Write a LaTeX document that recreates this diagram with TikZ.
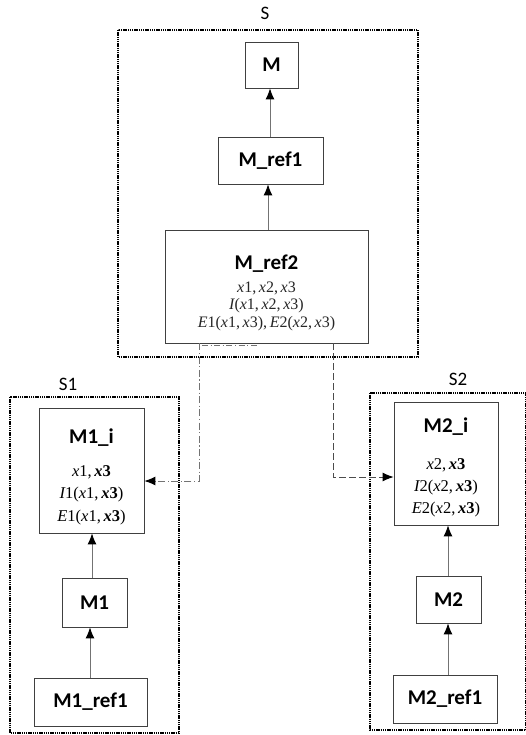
\documentclass[tikz,border=0pt]{standalone}
\usepackage{fontspec}
\setsansfont{Carlito}
\newfontfamily\mfont{Liberation Serif}
\usetikzlibrary{arrows.meta,calc}
\newcommand\ttl[2]{{\rule{0pt}{#1}\sffamily\bfseries\fontsize{21}{24}\selectfont #2}}
\newcommand\vx{{\itshape x}}
\newcommand\bxt{{\bfseries\itshape x}\textbf{3}}
\newcommand\cm{,\,}
\begin{document}
\begin{tikzpicture}[x=1pt,y=-1pt,
  grp/.style={draw=black,line width=1.2pt,dash pattern=on 1.4pt off 0.8pt},
  box/.style={draw=black!75,line width=0.8pt,fill=white,inner sep=2pt,
    font=\sffamily\bfseries\fontsize{21}{24}\selectfont},
  mbox/.style={draw=black!75,line width=0.8pt,fill=white,inner sep=2pt,align=center},
  lbl/.style={font=\sffamily\fontsize{19}{22}\selectfont},
  arr/.style={draw=black!55,line width=0.9pt,-{Latex[length=11pt,width=9pt,color=black]}},
  dd/.style={draw=black!55,line width=0.9pt,dash pattern=on 7pt off 2.5pt on 1.2pt off 2.5pt,-{Latex[length=11pt,width=9pt,color=black]}},
  ds/.style={draw=black!70,line width=0.9pt,dash pattern=on 7pt off 3pt,-{Latex[length=11pt,width=9pt,color=black]}}
]
\useasboundingbox (0,0) rectangle (526,735);
% group frames
\draw[grp] (118,30) rectangle (418,357);
\draw[grp] (10,397) rectangle (179,733);
\draw[grp] (370,393) rectangle (526,730);
\node[lbl] (s) at (265,13) {S};
\node[lbl] (s1) at (68,384) {S1};
\node[lbl] (s2) at (458,379) {S2};
% nodes
\node[box,minimum width=53pt,minimum height=46pt] (m) at (271.5,65) {M};
\node[box,minimum width=105pt,minimum height=47pt] (mref1) at (270.5,160.5) {M\_ref1};
\node[mbox,minimum width=203pt,minimum height=113pt,font=\mfont\fontsize{16}{17.5}\selectfont,text=black!85] (mref2) at (266.5,286.5)
  {\ttl{27pt}{\color{black}M\_ref2}\\[5pt]\vx1\cm\vx2\cm\vx3\\{\itshape I}(\vx1\cm\vx2\cm\vx3)\\{\itshape E}1(\vx1\cm\vx3)\cm{\itshape E}2(\vx2\cm\vx3)};
\node[mbox,minimum width=105pt,minimum height=125pt,font=\mfont\fontsize{16.5}{22.5}\selectfont] (m1i) at (91.5,470.5)
  {\ttl{28pt}{M1\_i}\\[10pt]\vx1\cm\bxt\\{\itshape I}1(\vx1\cm\bxt)\\{\itshape E}1(\vx1\cm\bxt)};
\node[box,minimum width=65pt,minimum height=49pt] (m1) at (94.5,602.5) {M1};
\node[box,minimum width=113pt,minimum height=48pt] (m1ref1) at (90.5,702) {M1\_ref1};
\node[mbox,minimum width=104pt,minimum height=123pt,font=\mfont\fontsize{16.5}{22}\selectfont] (m2i) at (446,463.5)
  {\ttl{23pt}{M2\_i}\\[15pt]\vx2\cm\bxt\\{\itshape I}2(\vx2\cm\bxt)\\{\itshape E}2(\vx2\cm\bxt)};
\node[box,minimum width=65pt,minimum height=47pt] (m2) at (448.5,599.5) {M2};
\node[box,minimum width=104pt,minimum height=48pt] (m2ref1) at (445,699) {M2\_ref1};
% solid arrows
\draw[arr] (mref1.north -| 270,0) -- (m.south -| 270,0);
\draw[arr] (mref2.north -| 268,0) -- (mref1.south -| 268,0);
\draw[arr] (m1.north -| 92,0) -- (m1i.south -| 92,0);
\draw[arr] (m1ref1.north -| 90,0) -- (m1.south -| 90,0);
\draw[arr] (m2.north -| 448,0) -- (m2i.south -| 448,0);
\draw[arr] (m2ref1.north -| 448,0) -- (m2.south -| 448,0);
% cross connectors
\coordinate (c1) at (199,481);
\coordinate (c2) at (333,477);
\draw[dd] (mref2.south -| c1) -- (c1) -- (c1 -| m1i.east);
\draw[ds] (mref2.south -| c2) -- (c2) -- (c2 -| m2i.west);
\draw[draw=black!55,line width=0.8pt,dash pattern=on 6pt off 2.5pt on 1.2pt off 2.5pt] (202,345) -- (257,345);
\end{tikzpicture}
\end{document}
